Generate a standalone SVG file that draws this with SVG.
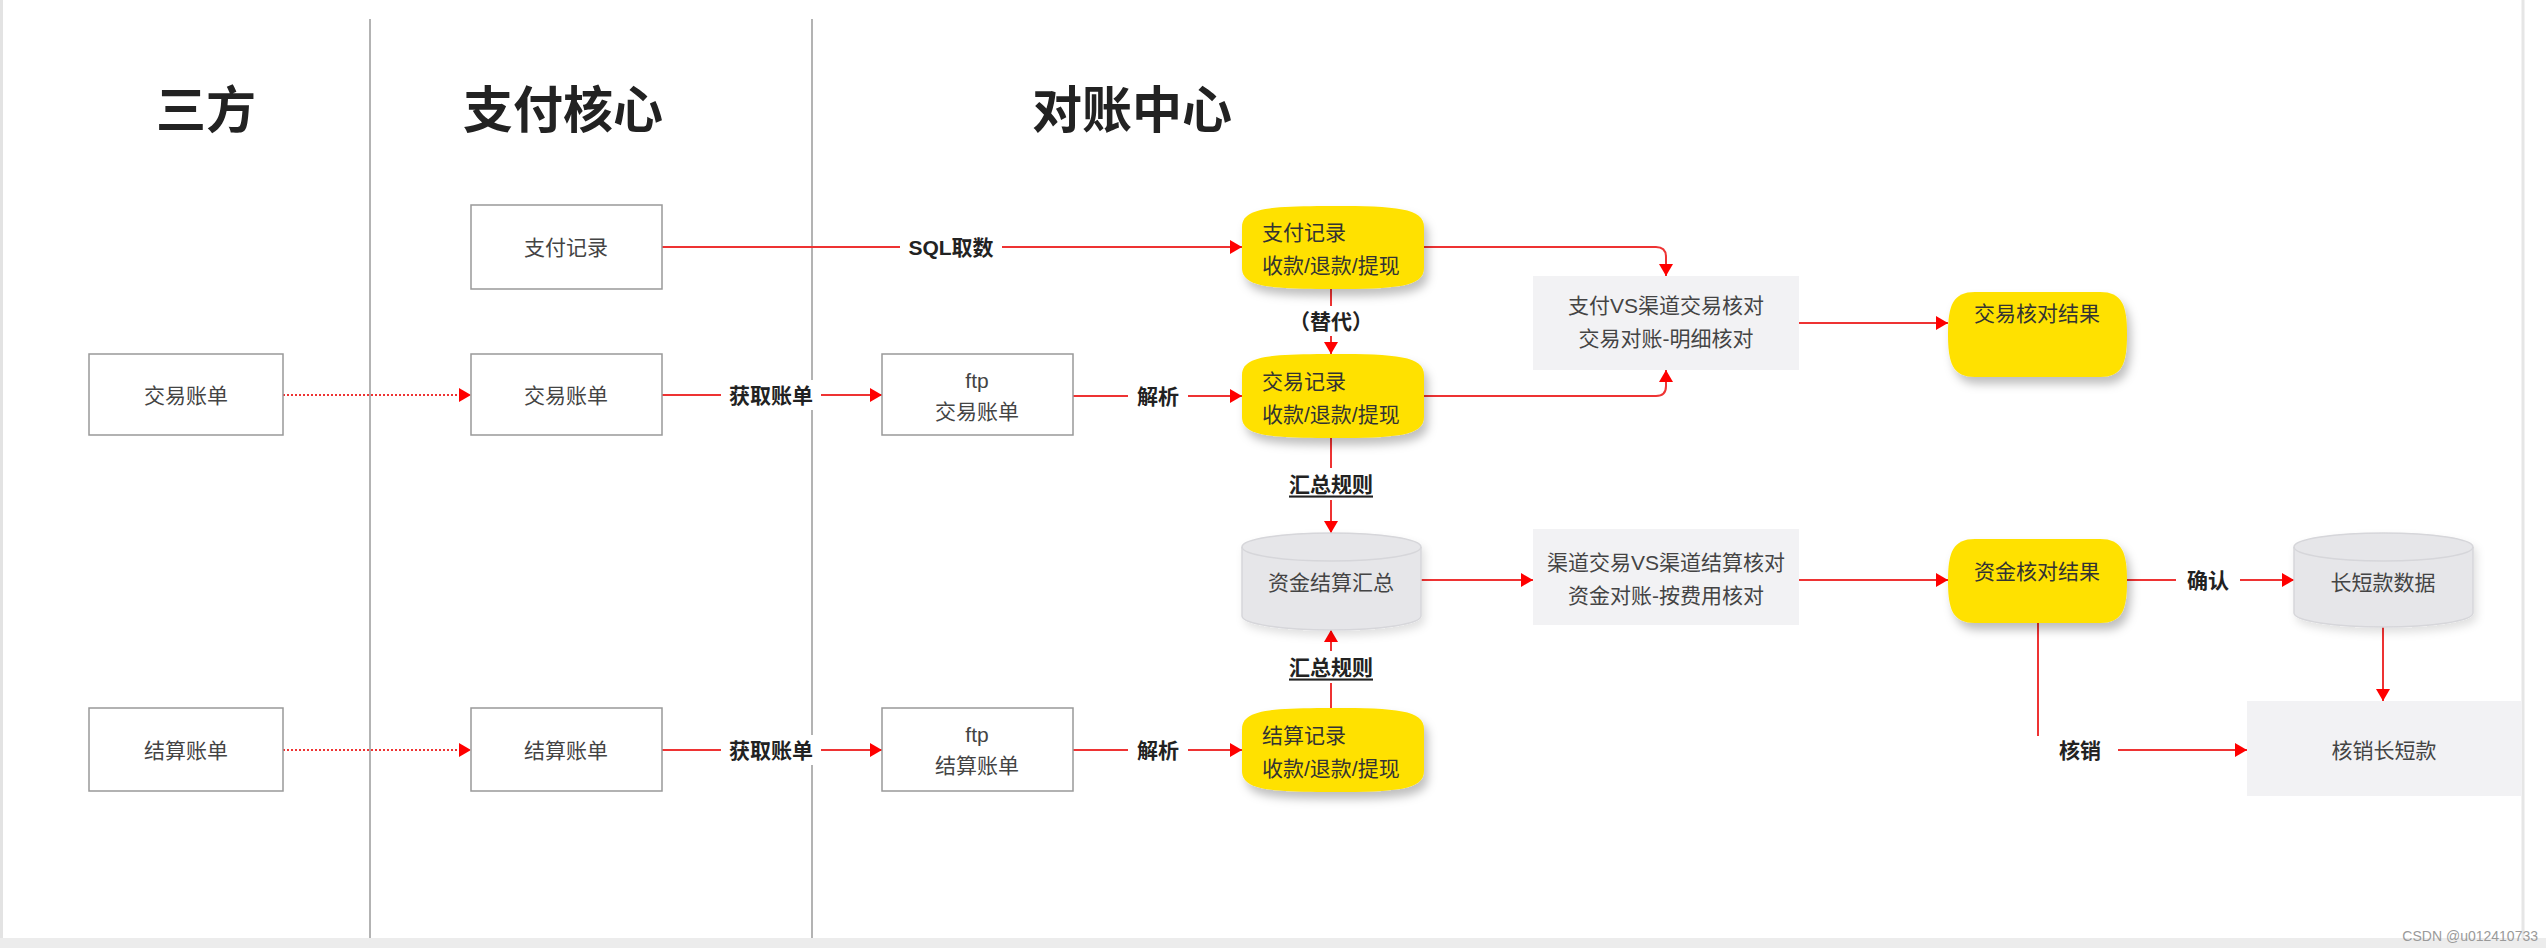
<svg xmlns="http://www.w3.org/2000/svg" width="2546" height="948" viewBox="0 0 2546 948">
<style>
text{font-family:"Liberation Sans","Noto Sans CJK SC",sans-serif;}
.title{font-size:50px;font-weight:bold;fill:#222;text-anchor:middle;}
.bt{font-size:21px;fill:#444;text-anchor:middle;dominant-baseline:central;}
.yt{font-size:21px;fill:#333;dominant-baseline:central;}
.lb{font-size:21px;font-weight:bold;fill:#222;text-anchor:middle;dominant-baseline:central;}
.ul{text-decoration:underline;}
.box{fill:#fff;stroke:#999;stroke-width:1.5;}
.gbox{fill:#f2f2f4;}
.yel{fill:#ffe100;filter:url(#sh);}
.cyl{fill:#e6e6e9;stroke:#d6d6da;stroke-width:1.5;filter:url(#sh2);}
.cyltop{fill:none;stroke:#d6d6da;stroke-width:1.5;}
.sep{stroke:#9a9a9a;stroke-width:1.5;}
.edge{fill:none;stroke:#ee3333;stroke-width:2;marker-end:url(#ah);}
.dot{fill:none;stroke:#ee3333;stroke-width:2;stroke-dasharray:2 2;marker-end:url(#ah);}
.lbg{fill:#fff;}
</style>
<defs>
<marker id="ah" markerUnits="userSpaceOnUse" markerWidth="12" markerHeight="14" refX="12" refY="7" orient="auto">
<path d="M0,0 L12,7 L0,14 z" fill="#ff0000"/>
</marker>
<filter id="sh" x="-20%" y="-20%" width="150%" height="160%">
<feDropShadow dx="4" dy="7" stdDeviation="5" flood-color="#000" flood-opacity="0.25"/>
</filter>
<filter id="sh2" x="-20%" y="-20%" width="150%" height="160%">
<feDropShadow dx="3" dy="5" stdDeviation="4" flood-color="#000" flood-opacity="0.12"/>
</filter>
</defs>
<rect x="0" y="0" width="2546" height="948" fill="#fff"/>
<g id="frame">
<line x1="1.5" y1="0" x2="1.5" y2="938" stroke="#e3e3e3" stroke-width="3"/>
<rect x="0" y="938" width="2546" height="10" fill="#ececec"/>
<line x1="2523" y1="0" x2="2523" y2="938" stroke="#e6e6e6" stroke-width="3"/>
<text x="2538" y="941" font-size="14" fill="#9a9a9a" text-anchor="end">CSDN @u012410733</text>
</g>
<g id="lanes">
<line class="sep" x1="370" y1="19" x2="370" y2="938"/>
<line class="sep" x1="812" y1="19" x2="812" y2="938"/>
<text class="title" x="206" y="128">三方</text>
<text class="title" x="563" y="128">支付核心</text>
<text class="title" x="1132" y="128">对账中心</text>
</g>
<g id="connectors">
<path class="edge" d="M662,247 L1242,247"/>
<rect class="lbg" x="900" y="232" width="102" height="30"/>
<text class="lb" x="951" y="247">SQL取数</text>
<path class="edge" d="M1424,247 L1656,247 Q1666,247 1666,257 L1666,276"/>
<path class="edge" d="M1424,396 L1656,396 Q1666,396 1666,386 L1666,370"/>
<path class="edge" d="M1331,289 L1331,354"/>
<rect class="lbg" x="1281" y="306" width="100" height="30"/>
<text class="lb" x="1331" y="321">（替代）</text>
<path class="dot" d="M283,395 L471,395"/>
<path class="edge" d="M662,395 L882,395"/>
<rect class="lbg" x="721" y="380" width="100" height="30"/>
<text class="lb" x="771" y="395">获取账单</text>
<path class="edge" d="M1073,396 L1242,396"/>
<rect class="lbg" x="1128" y="381" width="60" height="30"/>
<text class="lb" x="1158" y="396">解析</text>
<path class="edge" d="M1331,438 L1331,533"/>
<rect class="lbg" x="1283" y="468" width="96" height="32"/>
<text class="lb ul" x="1331" y="484">汇总规则</text>
<path class="edge" d="M1331,708 L1331,630"/>
<rect class="lbg" x="1283" y="651" width="96" height="32"/>
<text class="lb ul" x="1331" y="667">汇总规则</text>
<path class="dot" d="M283,750 L471,750"/>
<path class="edge" d="M662,750 L882,750"/>
<rect class="lbg" x="721" y="735" width="100" height="30"/>
<text class="lb" x="771" y="750">获取账单</text>
<path class="edge" d="M1073,750 L1242,750"/>
<rect class="lbg" x="1128" y="735" width="60" height="30"/>
<text class="lb" x="1158" y="750">解析</text>
<path class="edge" d="M1421,580 L1533,580"/>
<path class="edge" d="M1799,580 L1948,580"/>
<path class="edge" d="M1799,323 L1948,323"/>
<path class="edge" d="M2127,580 L2294,580"/>
<rect class="lbg" x="2176" y="565" width="64" height="30"/>
<text class="lb" x="2208" y="580">确认</text>
<path class="edge" d="M2383,627 L2383,701"/>
<path class="edge" d="M2038,623 L2038,750 L2247,750"/>
<rect class="lbg" x="2032" y="736" width="86" height="30"/>
<text class="lb" x="2080" y="750">核销</text>
</g>
<g id="n_tp_trade"><rect class="box" x="89" y="354" width="194" height="81"/><text class="bt" x="186" y="395">交易账单</text></g>
<g id="n_tp_settle"><rect class="box" x="89" y="708" width="194" height="83"/><text class="bt" x="186" y="750">结算账单</text></g>
<g id="n_core_pay"><rect class="box" x="471" y="205" width="191" height="84"/><text class="bt" x="566" y="247">支付记录</text></g>
<g id="n_core_trade"><rect class="box" x="471" y="354" width="191" height="81"/><text class="bt" x="566" y="395">交易账单</text></g>
<g id="n_core_settle"><rect class="box" x="471" y="708" width="191" height="83"/><text class="bt" x="566" y="750">结算账单</text></g>
<g id="n_ftp_trade"><rect class="box" x="882" y="354" width="191" height="81"/><text class="bt" x="977" y="380">ftp</text><text class="bt" x="977" y="411">交易账单</text></g>
<g id="n_ftp_settle"><rect class="box" x="882" y="708" width="191" height="83"/><text class="bt" x="977" y="734">ftp</text><text class="bt" x="977" y="765">结算账单</text></g>
<g id="n_rec_pay"><path class="yel" d="M1242,227 C1242,208 1270,206 1333,206 C1396,206 1424,208 1424,227 L1424,268 C1424,287 1396,289 1333,289 C1270,289 1242,287 1242,268 Z"/><text class="yt" x="1262" y="232">支付记录</text><text class="yt" x="1262" y="265">收款/退款/提现</text></g>
<g id="n_rec_trade"><path class="yel" d="M1242,375 C1242,356 1270,354 1333,354 C1396,354 1424,356 1424,375 L1424,417 C1424,436 1396,438 1333,438 C1270,438 1242,436 1242,417 Z"/><text class="yt" x="1262" y="381">交易记录</text><text class="yt" x="1262" y="414">收款/退款/提现</text></g>
<g id="n_rec_settle"><path class="yel" d="M1242,729 C1242,710 1270,708 1333,708 C1396,708 1424,710 1424,729 L1424,771 C1424,790 1396,792 1333,792 C1270,792 1242,790 1242,771 Z"/><text class="yt" x="1262" y="735">结算记录</text><text class="yt" x="1262" y="768">收款/退款/提现</text></g>
<g id="n_fund_summary"><path class="cyl" d="M1242,547 A89.5,14 0 0 1 1421,547 L1421,616 A89.5,14 0 0 1 1242,616 Z"/><path class="cyltop" d="M1242,547 A89.5,14 0 0 0 1421,547"/><text class="bt" x="1331" y="582">资金结算汇总</text></g>
<g id="n_vs_trade"><rect class="gbox" x="1533" y="276" width="266" height="94"/><text class="bt" x="1666" y="305">支付VS渠道交易核对</text><text class="bt" x="1666" y="338">交易对账-明细核对</text></g>
<g id="n_vs_settle"><rect class="gbox" x="1533" y="529" width="266" height="96"/><text class="bt" x="1666" y="562">渠道交易VS渠道结算核对</text><text class="bt" x="1666" y="595">资金对账-按费用核对</text></g>
<g id="n_trade_result"><path class="yel" d="M1975,292 L2100,292 C2122,292 2127,305 2127,334 C2127,364 2122,377 2100,377 L1975,377 C1953,377 1948,364 1948,334 C1948,305 1953,292 1975,292 Z"/><text class="yt" x="2037" y="313" text-anchor="middle">交易核对结果</text></g>
<g id="n_fund_result"><path class="yel" d="M1975,539 L2100,539 C2122,539 2127,552 2127,581 C2127,610 2122,623 2100,623 L1975,623 C1953,623 1948,610 1948,581 C1948,552 1953,539 1975,539 Z"/><text class="yt" x="2037" y="571" text-anchor="middle">资金核对结果</text></g>
<g id="n_long_short"><path class="cyl" d="M2294,547 A89.5,14 0 0 1 2473,547 L2473,613 A89.5,14 0 0 1 2294,613 Z"/><path class="cyltop" d="M2294,547 A89.5,14 0 0 0 2473,547"/><text class="bt" x="2383" y="582">长短款数据</text></g>
<g id="n_writeoff"><rect class="gbox" x="2247" y="701" width="275" height="95"/><text class="bt" x="2384" y="750">核销长短款</text></g>
</svg>
